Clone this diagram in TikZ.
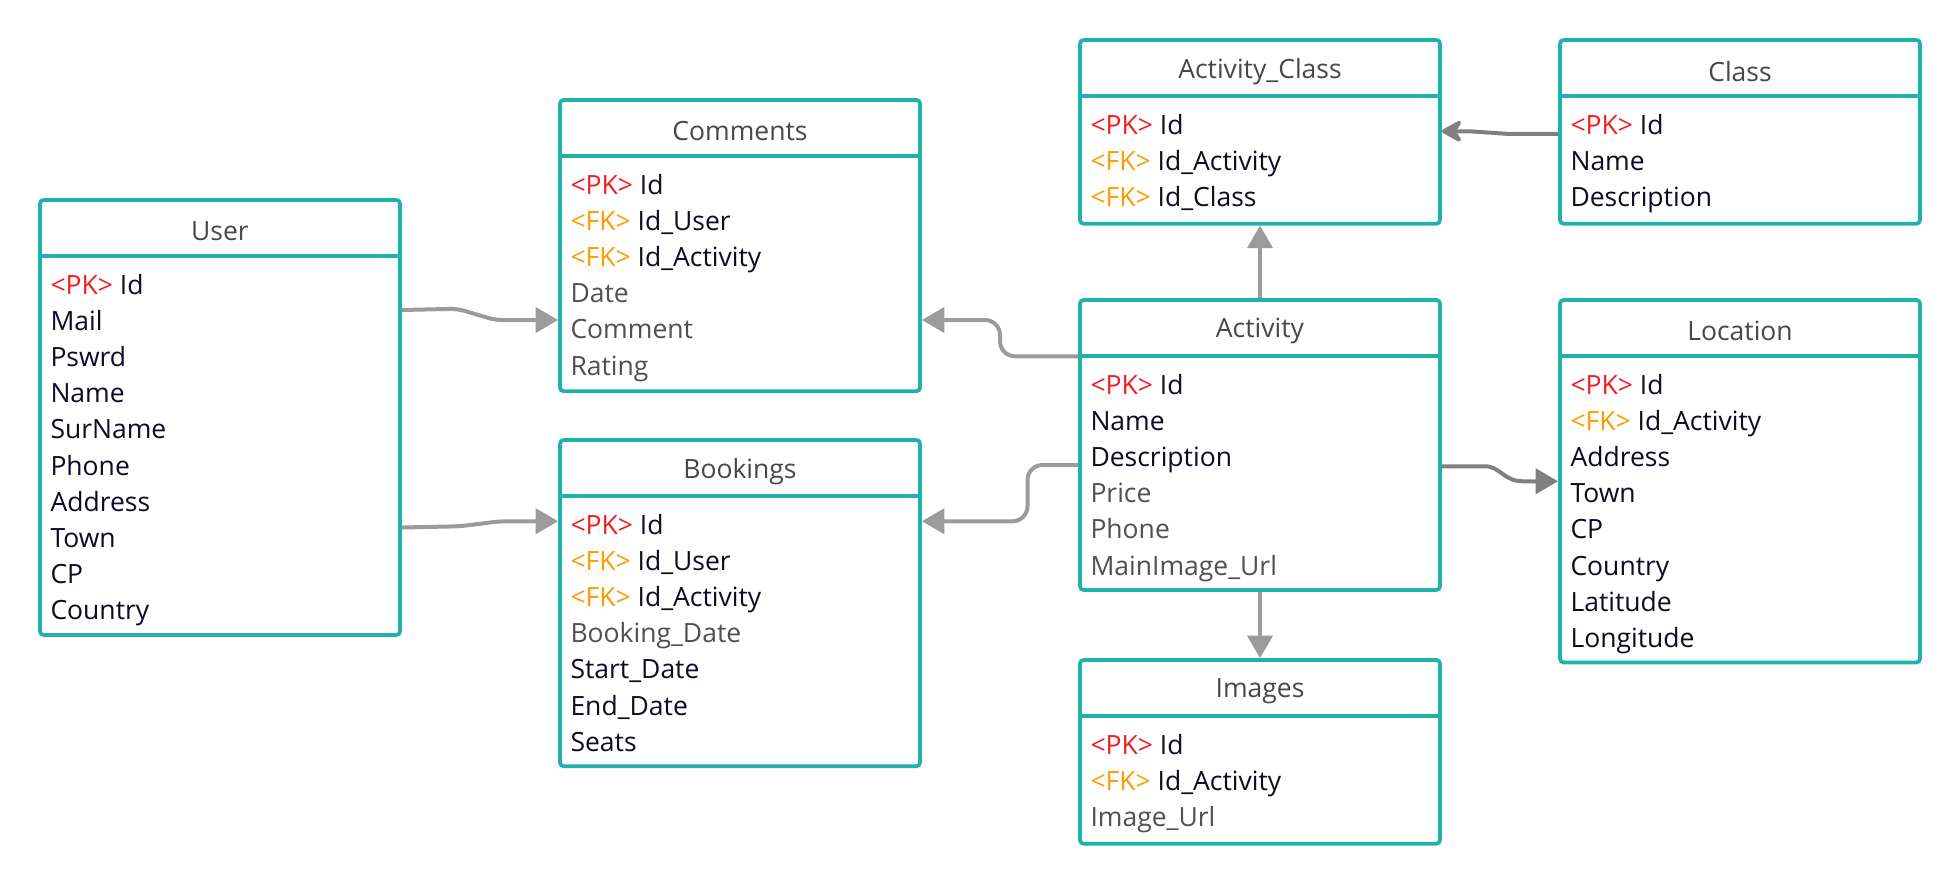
\documentclass[tikz,border=0pt]{standalone}
\usepackage{fontspec}
\setmainfont{Open Sans}
\usetikzlibrary{arrows.meta,fit,calc}
\definecolor{tealb}{HTML}{20B2AA}
\definecolor{pkred}{HTML}{F01E23}
\definecolor{fkor}{HTML}{FF9A00}
\definecolor{fldk}{HTML}{0B0B26}
\definecolor{fldg}{HTML}{505050}
\definecolor{hdrg}{HTML}{484848}
\definecolor{lnlight}{HTML}{9B9B9B}
\definecolor{lndark}{HTML}{808080}
\newcommand\pkk{\textcolor{pkred}{<PK>}\ }
\newcommand\fkk{\textcolor{fkor}{<FK>}\ }
\newcommand\gry[1]{\textcolor{fldg}{#1}}
\tikzset{
  tbl/.style={draw=tealb, line width=1.5pt, rounded corners=1.5pt, inner sep=0pt, fill=white},
  hline/.style={draw=tealb, line width=1.5pt},
  hdr/.style={font=\fontsize{10.6}{13}\selectfont, text=hdrg, inner sep=0pt},
  fld/.style={font=\fontsize{10.6}{13}\selectfont, text=fldk, inner sep=0pt, anchor=base west},
  conl/.style={draw=lnlight, line width=1.6pt, -{Triangle[length=9pt,width=10pt]}, fill=none},
  cond/.style={draw=lndark, line width=1.6pt, -{Triangle[length=9pt,width=10pt]}},
}
\newcommand\ertable[6]{%
  \coordinate (#1-nw) at (#2,#3);
  \coordinate (#1-se) at ({#2+288},#4);
  \node[tbl, fit=(#1-nw)(#1-se)] (#1) {};
  \draw[hline] (#1.west |- 0,{#3+45}) -- (#1.east |- 0,{#3+45});
  \node[hdr] (#1-title) at ({#2+144},{#3+25}) {#5};
  \foreach \t [count=\i] in {#6} {
    \node[fld] (#1-\i) at ({#2+8},{#3+45+22+(\i-1)*28.9+8.5}) {\t};
  }%
}
\begin{document}
\begin{tikzpicture}[x=0.5pt,y=-0.5pt]
\useasboundingbox (0,0) rectangle (1568,708);
\fill[white] (0,0) rectangle (1568,708);

\ertable{user}{32}{160}{508}{User}{\pkk Id,Mail,Pswrd,Name,SurName,Phone,Address,Town,CP,Country}
\ertable{comments}{448}{80}{313}{Comments}{\pkk Id,\fkk Id\_User,\fkk Id\_Activity,\gry{Date},\gry{Comment},\gry{Rating}}
\ertable{bookings}{448}{352}{613}{Bookings}{\pkk Id,\fkk Id\_User,\fkk Id\_Activity,\gry{Booking\_Date},Start\_Date,End\_Date,Seats}
\ertable{actclass}{864}{32}{179}{Activity\_Class}{\pkk Id,\fkk Id\_Activity,\fkk Id\_Class}
\ertable{class}{1248}{32}{179}{Class}{\pkk Id,Name,Description}
\ertable{activity}{864}{240}{472}{Activity}{\pkk Id,Name,Description,\gry{Price},\gry{Phone},\gry{MainImage\_Url}}
\ertable{location}{1248}{240}{530}{Location}{\pkk Id,\fkk Id\_Activity,Address,Town,CP,Country,Latitude,Longitude}
\ertable{images}{864}{528}{675}{Images}{\pkk Id,\fkk Id\_Activity,\gry{Image\_Url}}

% connectors
\draw[conl, rounded corners=3pt] (user.east |- 0,248) -- (366,247) -- (396,256) -- (comments.west |- 0,256);
\draw[conl, rounded corners=3pt] (user.east |- 0,422) -- (368,421) -- (400,417) -- (bookings.west |- 0,417);
\draw[conl, rounded corners=6pt] (activity.west |- 0,285) -- (800,285) -- (800,256) -- (comments.east |- 0,256);
\draw[conl, rounded corners=6pt] (activity.west |- 0,372) -- (822,372) -- (822,417) -- (bookings.east |- 0,417);
\draw[conl] (activity.north) -- (actclass.south);
\draw[conl] (activity.south) -- (images.north);
\draw[cond] (activity.east |- 0,373) -- (1188,373) .. controls (1200,373) and (1203,385) .. (1218,385) -- (location.west |- 0,385);
\draw[draw=lndark, line width=1.6pt, -{Stealth[length=10pt,width=11pt,inset=3.5pt,round]}] (class.west |- 0,107) -- (1205,107) -- (1175,105) -- (actclass.east |- 0,105);
\end{tikzpicture}
\end{document}
